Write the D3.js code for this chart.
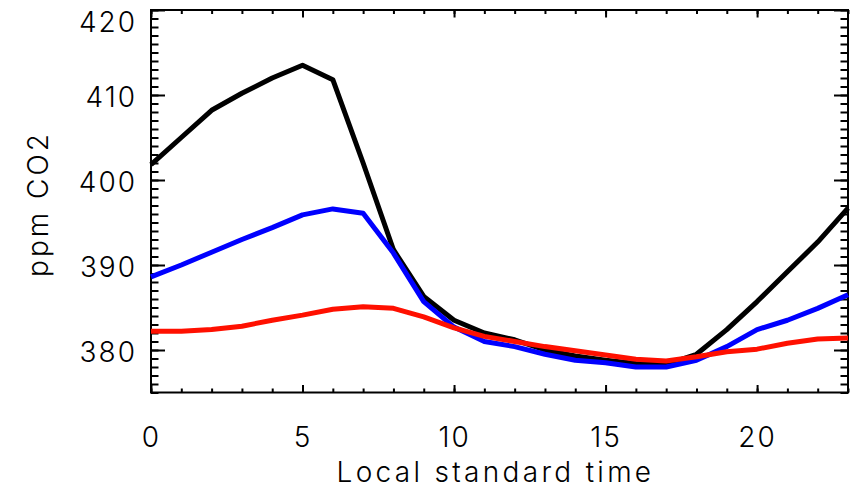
<!DOCTYPE html>
<html>
<head>
<meta charset="utf-8">
<script src="https://cdn.jsdelivr.net/npm/d3@7"></script>
<style>
  body { margin: 0; background: #fff; }
  text { font-family: Inter, "DejaVu Sans", sans-serif; font-weight: 300; fill: #000; }
</style>
</head>
<body>
<script>
// hours 0..23, local standard time
const hours = d3.range(0, 24);
const blackSeries = [401.8, 405.0, 408.2, 410.2, 412.0, 413.5, 411.8, 402.0, 391.8, 386.3, 383.5, 382.0,
  381.2, 380.0, 379.3, 378.8, 378.4, 378.3, 379.5, 382.4, 385.7, 389.2, 392.7, 396.7];
const blueSeries = [388.6, 390.0, 391.5, 393.0, 394.4, 395.9, 396.6, 396.1, 391.4, 385.7, 382.7, 381.0,
  380.4, 379.5, 378.8, 378.5, 378.0, 378.0, 378.8, 380.4, 382.4, 383.5, 384.9, 386.5];
const redSeries = [382.2, 382.2, 382.4, 382.8, 383.5, 384.1, 384.8, 385.1, 384.9, 383.9, 382.6, 381.6,
  381.0, 380.4, 379.9, 379.4, 378.9, 378.7, 379.2, 379.8, 380.1, 380.8, 381.3, 381.4];
const xMajor = [0, 5, 10, 15, 20];
const yMajor = [380, 390, 400, 410, 420];

const W = 859, H = 496;
const mLeft = 151, mRight = 848, mTop = 10, mBottom = 392.5;

const svg = d3.select('body').append('svg')
  .attr('width', W)
  .attr('height', H);

const x = d3.scaleLinear().domain([0, 23]).range([mLeft, mRight]);
const y = d3.scaleLinear().domain([375, 420]).range([mBottom, mTop]);

// ----- axes (IDL style, ticks pointing inward) -----
const axisG = svg.append('g').attr('class', 'axes');

function styleAxis(g) {
  g.select('.domain').remove();
  g.selectAll('.tick line').attr('stroke', '#000').attr('stroke-width', 2);
}

// bottom
axisG.append('g').attr('transform', `translate(0,${mBottom})`)
  .call(d3.axisBottom(x).tickValues(d3.range(0, 24)).tickSize(-4).tickFormat(''))
  .call(styleAxis);
axisG.append('g').attr('transform', `translate(0,${mBottom})`)
  .call(d3.axisBottom(x).tickValues(xMajor).tickSize(-7.5).tickPadding(35).tickFormat(d3.format('d')))
  .call(styleAxis)
  .selectAll('text')
  .attr('font-size', 28)
  .attr('letter-spacing', 2);

// top
axisG.append('g').attr('transform', `translate(0,${mTop})`)
  .call(d3.axisTop(x).tickValues(d3.range(0, 24)).tickSize(-4).tickFormat(''))
  .call(styleAxis);
axisG.append('g').attr('transform', `translate(0,${mTop})`)
  .call(d3.axisTop(x).tickValues(xMajor).tickSize(-7.5).tickFormat(''))
  .call(styleAxis);

// left
axisG.append('g').attr('transform', `translate(${mLeft},0)`)
  .call(d3.axisLeft(y).tickValues(d3.range(375, 421)).tickSize(-7.5).tickFormat(''))
  .call(styleAxis);
const yLab = axisG.append('g').attr('transform', `translate(${mLeft},0)`)
  .call(d3.axisLeft(y).tickValues(yMajor).tickSize(-14).tickPadding(14).tickFormat(d3.format('d')))
  .call(styleAxis);
yLab.selectAll('.tick text')
  .attr('font-size', 28)
  .attr('letter-spacing', 2)
  .attr('y', d => Math.max(y(d), 20) - y(d) + 3);

// right
axisG.append('g').attr('transform', `translate(${mRight},0)`)
  .call(d3.axisRight(y).tickValues(d3.range(375, 421)).tickSize(-7.5).tickFormat(''))
  .call(styleAxis);
axisG.append('g').attr('transform', `translate(${mRight},0)`)
  .call(d3.axisRight(y).tickValues(yMajor).tickSize(-14).tickFormat(''))
  .call(styleAxis);

// frame
svg.append('rect')
  .attr('x', mLeft).attr('y', mTop)
  .attr('width', mRight - mLeft).attr('height', mBottom - mTop)
  .attr('fill', 'none')
  .attr('stroke', '#000')
  .attr('stroke-width', 2);

// ----- lines -----
const line = d3.line()
  .x((d, i) => x(hours[i]))
  .y(d => y(d));

const series = [
  { values: blackSeries, color: '#000000' },
  { values: blueSeries, color: '#0000ff' },
  { values: redSeries, color: '#ff1000' }
];

svg.append('g').selectAll('path')
  .data(series)
  .join('path')
  .attr('d', d => line(d.values))
  .attr('fill', 'none')
  .attr('stroke', d => d.color)
  .attr('stroke-width', 5)
  .attr('stroke-linejoin', 'round');

// ----- axis titles -----
svg.append('text')
  .attr('x', (mLeft + mRight) / 2 - 4)
  .attr('y', 482)
  .attr('text-anchor', 'middle')
  .attr('font-size', 28)
  .attr('letter-spacing', 3.3)
  .text('Local standard time');

svg.append('text')
  .attr('transform', `translate(48,204) rotate(-90)`)
  .attr('text-anchor', 'middle')
  .attr('font-size', 28)
  .attr('letter-spacing', 3)
  .text('ppm CO2');
</script>
</body>
</html>
